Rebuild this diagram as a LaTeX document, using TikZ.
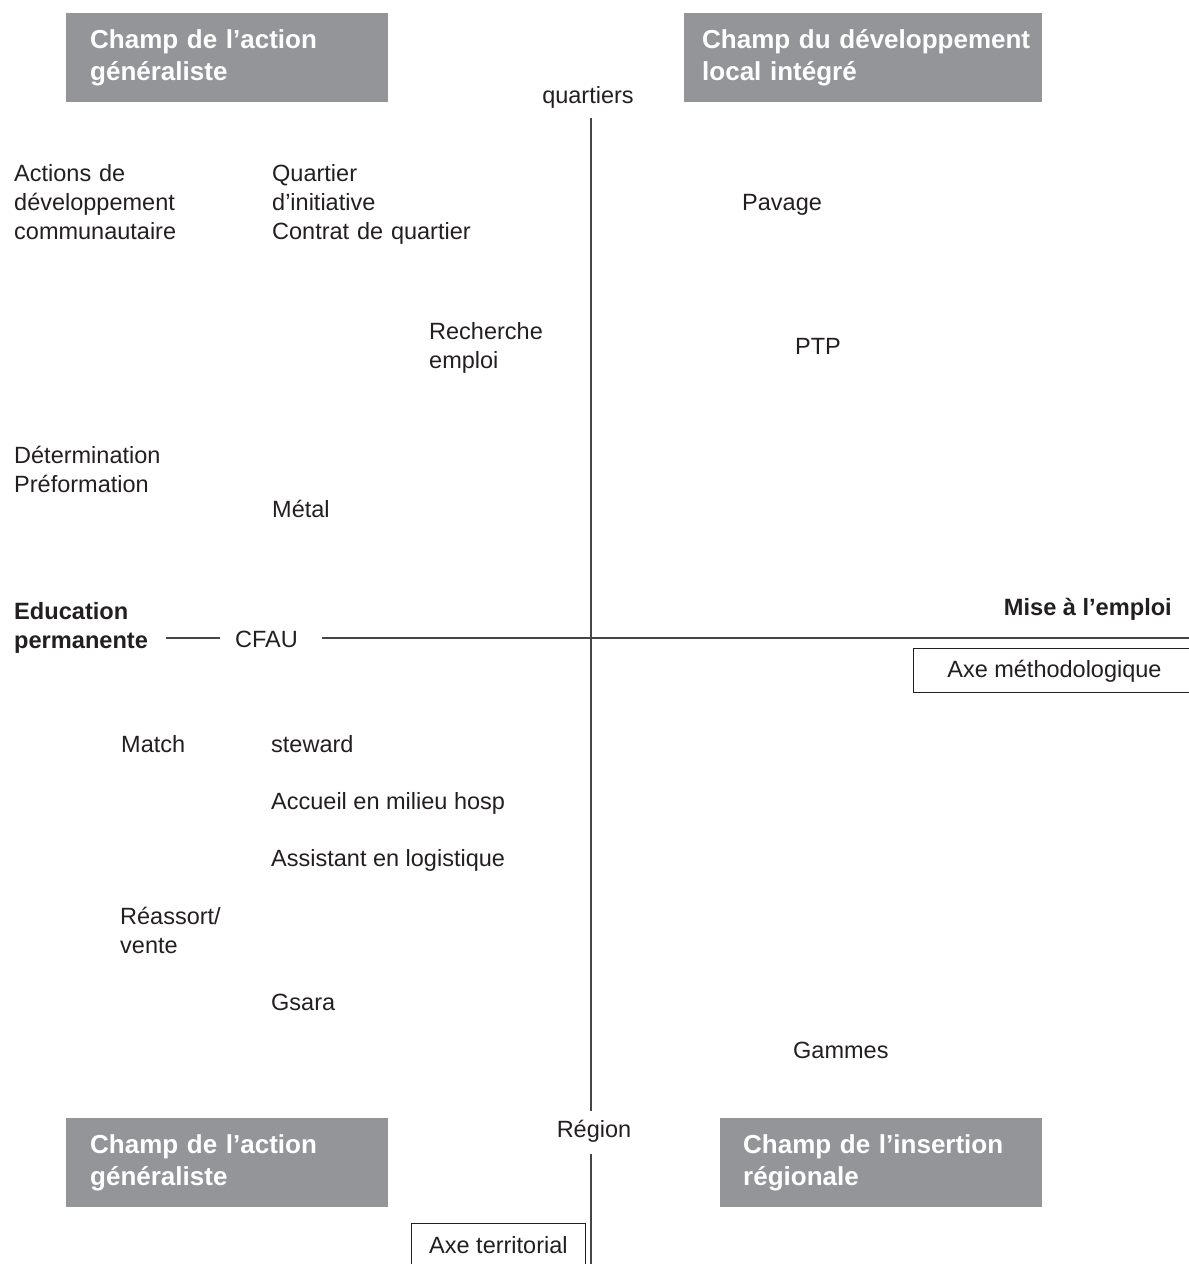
\documentclass[tikz,border=0pt]{standalone}
\usepackage{fontspec}
\setmainfont{Liberation Sans}
\usetikzlibrary{calc}
\definecolor{boxgray}{RGB}{147,149,152}
\definecolor{ink}{RGB}{35,31,32}
\definecolor{axisc}{RGB}{70,70,72}
\begin{document}
\begin{tikzpicture}[x=1pt,y=-1pt,
  lbl/.style={font=\fontsize{23.5}{29}\selectfont, inner sep=0pt, anchor=base west, text=ink},
  mlbl/.style={lbl, align=left, text width=#1},
  blbl/.style={font=\fontsize{23.6}{29}\selectfont\bfseries, inner sep=0pt, text=ink},
  graybox/.style n args={2}{fill=boxgray, text=white, draw=none,
    font=\fontsize{26}{32}\selectfont\bfseries, align=left, anchor=north west,
    inner sep=0pt, minimum width=#1, minimum height=89pt, text width=#2,
    text height=16pt, text depth=35pt},
  axisbox/.style={draw=ink, line width=0.9pt, fill=white, text=ink,
    font=\fontsize{23.5}{29}\selectfont, inner sep=0pt, anchor=north west,
    text height=17pt, text depth=3pt},
  axis/.style={draw=axisc, line width=1.1pt}
]
\useasboundingbox (0,0) rectangle (1189,1264);
\clip (0,0) rectangle (1189,1264);

% field boxes
\node[graybox={322pt}{274pt}] (tl) at (66,13) {\mbox{Champ de l’action}\\généraliste};
\node[graybox={358pt}{322pt}] (tr) at (684,13) {\mbox{Champ du développement}\\local intégré};
\node[graybox={322pt}{274pt}] (bl) at (66,1118) {\mbox{Champ de l’action}\\généraliste};
\node[graybox={322pt}{276pt}] (br) at (720,1118) {\mbox{Champ de l’insertion}\\régionale};

% axis end labels
\node[lbl, anchor=base] (quart) at (588,103) {quartiers};
\node[lbl, anchor=base] (region) at (594,1137) {Région};
\node[blbl, anchor=base west, align=left, text width=136pt] (edu) at (14,619) {Education\\permanente};
\node[blbl, anchor=base east] (mise) at (1172,615) {Mise à l’emploi};
\node[lbl] (cfau) at (235,647) {CFAU};

% axes
\coordinate (hax) at (0,638);
\coordinate (hend) at (1189,638);
\coordinate (vtop) at (591,118);
\coordinate (vbot) at (591,1264);
\draw[axis] ($(edu.east |- hax)+(16,0)$) -- ($(cfau.west |- hax)+(-15,0)$);
\draw[axis] ($(cfau.east |- hax)+(24,0)$) -- (hend);
\draw[axis] (vtop) -- ($(vtop |- region.north)+(0,-9)$);
\draw[axis] ($(vtop |- region.south)+(0,12)$) -- (vbot);

% axis name boxes
\node[axisbox, minimum width=282pt, minimum height=44pt] (methodo) at (913,648) {Axe méthodologique};
\node[axisbox, minimum width=174pt, minimum height=46pt] (territ) at (411,1223) {Axe territorial};

% actions
\node[mlbl=250pt] (adc) at (14,181) {Actions de\\développement\\communautaire};
\node[mlbl=250pt] (qi) at (272,181) {Quartier\\d’initiative\\Contrat de quartier};
\node[lbl] (pavage) at (742,210) {Pavage};
\node[mlbl=200pt] (rech) at (429,339) {Recherche\\emploi};
\node[lbl] (ptp) at (795,354) {PTP};
\node[mlbl=220pt] (deter) at (14,463) {Détermination\\Préformation};
\node[lbl] (metal) at (272,517) {Métal};
\node[lbl] (match) at (121,752) {Match};
\node[lbl] (steward) at (271,752) {steward};
\node[lbl] (accueil) at (271,809) {Accueil en milieu hosp};
\node[lbl] (assist) at (271,866) {Assistant en logistique};
\node[mlbl=150pt] (reass) at (120,924) {Réassort/\\vente};
\node[lbl] (gsara) at (271,1010) {Gsara};
\node[lbl] (gammes) at (793,1058) {Gammes};
\end{tikzpicture}
\end{document}
